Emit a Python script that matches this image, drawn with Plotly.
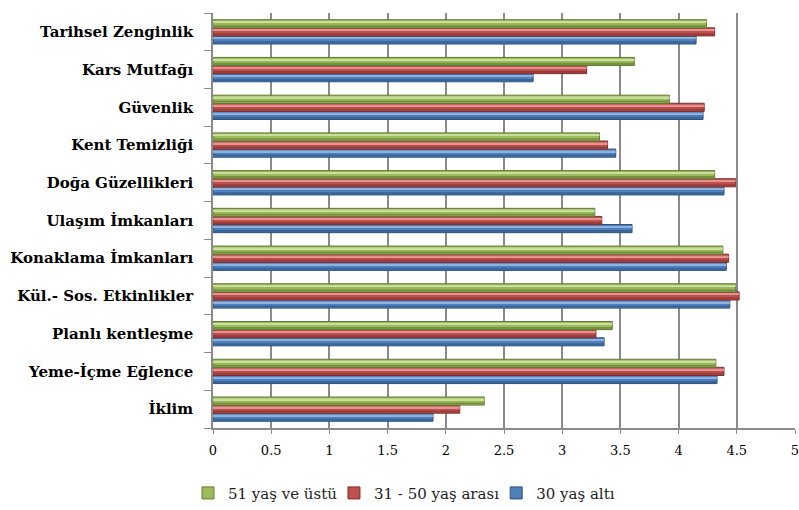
import plotly.graph_objects as go

# Survey scores by age group (bottom to top on the chart)
categories = [
    "İklim",
    "Yeme-İçme Eğlence",
    "Planlı kentleşme",
    "Kül.- Sos. Etkinlikler",
    "Konaklama İmkanları",
    "Ulaşım İmkanları",
    "Doğa Güzellikleri",
    "Kent Temizliği",
    "Güvenlik",
    "Kars Mutfağı",
    "Tarihsel Zenginlik",
]
age_under_30 = [1.89, 4.33, 3.36, 4.44, 4.41, 3.60, 4.39, 3.46, 4.21, 2.75, 4.15]
age_31_50 = [2.12, 4.39, 3.29, 4.52, 4.43, 3.34, 4.49, 3.39, 4.22, 3.21, 4.31]
age_51_plus = [2.33, 4.32, 3.43, 4.49, 4.38, 3.28, 4.31, 3.32, 3.92, 3.62, 4.24]

x_ticks = [0, 0.5, 1, 1.5, 2, 2.5, 3, 3.5, 4, 4.5, 5]
x_tick_text = ["0", "0.5", "1", "1.5", "2", "2.5", "3", "3.5", "4", "4.5", "5"]

series = [
    # name, values, base, shade, highlight, outline, legend id, legend x
    ("30 yaş altı", age_under_30, "#4F81BD", "#3A6598", "#8FB1DD", "#2F4F7A", "legend3", 0.621),
    ("31 - 50 yaş arası", age_31_50, "#C0504D", "#993C3A", "#E09390", "#7E2F2D", "legend2", 0.418),
    ("51 yaş ve üstü", age_51_plus, "#9BBB59", "#779340", "#C9DD9E", "#627A34", "legend", 0.2353),
]

bar_w = 0.215
fig = go.Figure()
legend_layouts = {}
for i, (name, vals, base, shade, light, outline, leg, leg_x) in enumerate(series):
    off = -1.5 * bar_w + i * bar_w
    fig.add_trace(go.Bar(
        name=name, y=categories, x=vals, orientation="h",
        offset=off, width=bar_w,
        marker=dict(color=base, line=dict(color=outline, width=1)),
        legend=leg,
    ))
    # lower shade band for the rounded look
    fig.add_trace(go.Bar(
        y=categories, x=vals, orientation="h",
        offset=off + bar_w * 0.08, width=bar_w * 0.25,
        marker=dict(color=shade, line=dict(width=0)),
        showlegend=False, hoverinfo="skip",
    ))
    # upper highlight band
    fig.add_trace(go.Bar(
        y=categories, x=vals, orientation="h",
        offset=off + bar_w * 0.62, width=bar_w * 0.2,
        marker=dict(color=light, line=dict(width=0)),
        showlegend=False, hoverinfo="skip",
    ))
    legend_layouts[leg] = dict(
        orientation="h", xref="container", yref="container",
        x=leg_x, xanchor="left", y=0.033, yanchor="middle",
        font=dict(family="DejaVu Serif", size=15, color="#222"),
        itemwidth=30, bgcolor="rgba(0,0,0,0)",
    )

fig.update_layout(
    width=799, height=510,
    margin=dict(l=213, r=0, t=13, b=82),
    barmode="overlay",
    plot_bgcolor="white",
    paper_bgcolor="white",
    font=dict(family="DejaVu Serif", color="black"),
    showlegend=True,
    **legend_layouts,
    xaxis=dict(
        range=[0, 5], tickvals=x_ticks, ticktext=x_tick_text,
        showgrid=True, gridcolor="#8A8A8A", gridwidth=1.6,
        showline=True, linecolor="#8A8A8A", linewidth=1.6,
        ticks="outside", ticklen=4, tickcolor="#8A8A8A",
        tickfont=dict(family="DejaVu Serif", size=13, color="black"),
        ticklabelstandoff=6, ticklabeloverflow="allow", zeroline=False,
    ),
    yaxis=dict(
        type="category", categoryorder="array", categoryarray=categories,
        range=[-0.5, len(categories) - 0.5],
        showline=True, linecolor="#8A8A8A", linewidth=1.6,
        ticks="outside", tickson="boundaries", ticklen=7, tickcolor="#8A8A8A",
        tickfont=dict(family="DejaVu Serif", size=15, color="black", weight="bold"),
        ticklabelstandoff=15, showgrid=False,
    ),
)

fig.write_html("out.html")
